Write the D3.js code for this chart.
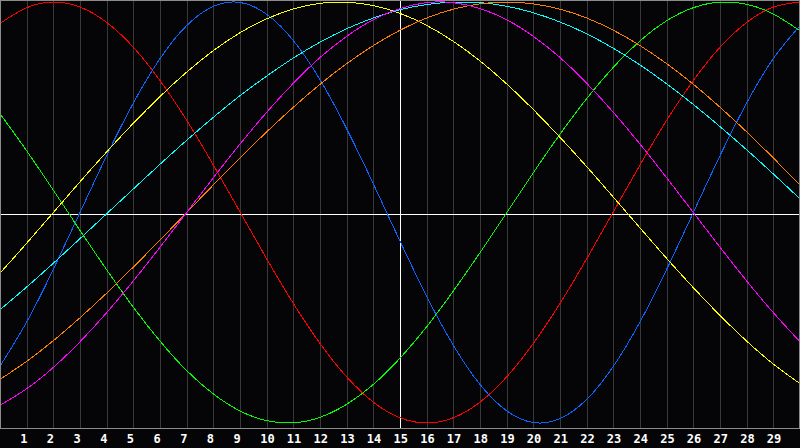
<!DOCTYPE html>
<meta charset="utf-8">
<style>
body { margin: 0; background: #050507; }
svg { display: block; background: #050507; }
.curve { fill: none; stroke-width: 1; shape-rendering: crispEdges; }
.grid line { stroke: #383838; shape-rendering: crispEdges; }
.grid path { display: none; }
.axis--x path, .axis--x line { display: none; }
.axis--x text { fill: #fff; font: bold 12px "DejaVu Sans Mono", monospace; }
.frame { fill: none; stroke: #8c8c8c; shape-rendering: crispEdges; }
.cross { stroke: #fff; shape-rendering: crispEdges; }
</style>
<svg width="800" height="448"></svg>
<script src="https://d3js.org/d3.v7.min.js"></script>
<script>

// sample positions along x
var steps = [0, 1, 2, 3, 4, 5, 6, 7, 8, 9, 10, 11, 12, 13, 14, 15,
             16, 17, 18, 19, 20, 21, 22, 23, 24, 25, 26, 27, 28, 29, 30];
var tickLabels = [1, 2, 3, 4, 5, 6, 7, 8, 9, 10, 11, 12, 13, 14, 15,
                  16, 17, 18, 19, 20, 21, 22, 23, 24, 25, 26, 27, 28, 29];

// values, -100 .. 100
var red     = [89.8, 97.3, 100, 97.6, 90.3, 78.5, 62.7, 43.8, 22.6, 0.3, -22.0, -43.2, -62.2, -78.1, -90.1, -97.5,
               -100, -97.5, -90.1, -78.1, -62.2, -43.2, -22.0, 0.3, 22.6, 43.8, 62.7, 78.5, 90.3, 97.6, 100];
var green   = [46.9, 29.3, 10.6, -8.5, -27.2, -45.0, -61.1, -75.1, -86.2, -94.3, -98.9, -99.9, -97.3, -91.1, -81.7, -69.2,
               -54.3, -37.3, -19.1, -0.1, 18.9, 37.2, 54.1, 69.0, 81.5, 91.1, 97.3, 99.9, 98.9, 94.3, 86.3];
var blue    = [-73.0, -52.0, -27.0, 0, 27.0, 52.0, 73.1, 88.8, 97.9, 99.8, 94.2, 81.7, 63.1, 39.8, 13.6, -13.6,
               -39.8, -63.1, -81.7, -94.2, -99.8, -97.9, -88.8, -73.1, -52.0, -27.0, 0, 27.0, 52.0, 73.1, 88.8];
var yellow  = [-28.8, -14.6, 0, 14.6, 28.8, 42.4, 55.1, 66.7, 76.9, 85.4, 92.0, 96.7, 99.4, 99.9, 98.3, 94.6,
               88.9, 81.3, 72.0, 61.1, 48.9, 35.7, 21.8, 7.3, -7.3, -21.8, -35.7, -48.9, -61.1, -72.0, -81.3];
var cyan    = [-46.2, -35.4, -24.1, -12.4, -0.6, 11.2, 22.9, 34.3, 45.2, 55.5, 64.8, 73.4, 80.9, 87.3, 92.4, 96.3,
               98.8, 99.9, 99.7, 98.0, 94.9, 90.5, 84.9, 78.0, 70.1, 61.1, 51.3, 40.8, 29.8, 18.3, 6.5];
var orange  = [-79.3, -70.7, -60.9, -50.0, -38.3, -25.9, -13.1, 0, 13.1, 25.9, 38.3, 50.0, 60.9, 70.7, 79.3, 86.6,
               92.4, 96.6, 99.1, 100, 99.1, 96.6, 92.4, 86.6, 79.3, 70.7, 60.9, 50.0, 38.3, 25.9, 13.1];
var magenta = [-91.6, -83.7, -73.6, -61.4, -47.6, -32.5, -16.5, 0, 16.5, 32.5, 47.6, 61.4, 73.6, 83.7, 91.6, 96.9,
               99.7, 99.7, 96.9, 91.6, 83.7, 73.6, 61.4, 47.6, 32.5, 16.5, 0, -16.5, -32.5, -47.6, -61.4];

var seriesList = [
  {name: "red", values: red, color: "#ff0000"},
  {name: "green", values: green, color: "#00ff00"},
  {name: "blue", values: blue, color: "#0a64ff"},
  {name: "yellow", values: yellow, color: "#ffff00"},
  {name: "cyan", values: cyan, color: "#00ffff"},
  {name: "orange", values: orange, color: "#ff8000"},
  {name: "magenta", values: magenta, color: "#ff00ff"}
];

var svg = d3.select("svg"),
    width = +svg.attr("width"),
    height = 428;

var x = d3.scaleLinear().domain([0, 30]).range([0, width]),
    y = d3.scaleLinear().domain([-100, 100]).range([423, 2]);

var g = svg.append("g");

// vertical grid
g.append("g")
    .attr("class", "grid")
    .attr("transform", "translate(0," + height + ")")
    .call(d3.axisBottom(x).tickValues(tickLabels).tickSize(-height).tickFormat(""));

// crosshair
g.append("line")
    .attr("class", "cross")
    .attr("x1", x(15) + 0.5).attr("x2", x(15) + 0.5)
    .attr("y1", 0).attr("y2", height);
g.append("line")
    .attr("class", "cross")
    .attr("x1", 0).attr("x2", width)
    .attr("y1", height / 2 + 0.5).attr("y2", height / 2 + 0.5);

var line = d3.line()
    .x(function(d, i) { return x(steps[i]); })
    .y(function(d) { return y(d); })
    .curve(d3.curveNatural);

g.selectAll(".curve")
  .data(seriesList)
  .enter().append("path")
    .attr("class", "curve")
    .attr("stroke", function(s) { return s.color; })
    .attr("d", function(s) { return line(s.values); });

// frame
g.append("rect")
    .attr("class", "frame")
    .attr("x", 0.5).attr("y", 0.5)
    .attr("width", width - 1).attr("height", height);

// labels
g.append("g")
    .attr("class", "axis axis--x")
    .attr("transform", "translate(0," + height + ")")
    .call(d3.axisBottom(x).tickValues(tickLabels).tickSize(0).tickPadding(0))
  .selectAll("text")
    .attr("text-anchor", "start")
    .attr("dx", -7)
    .attr("y", 15)
    .attr("dy", 0);

</script>
